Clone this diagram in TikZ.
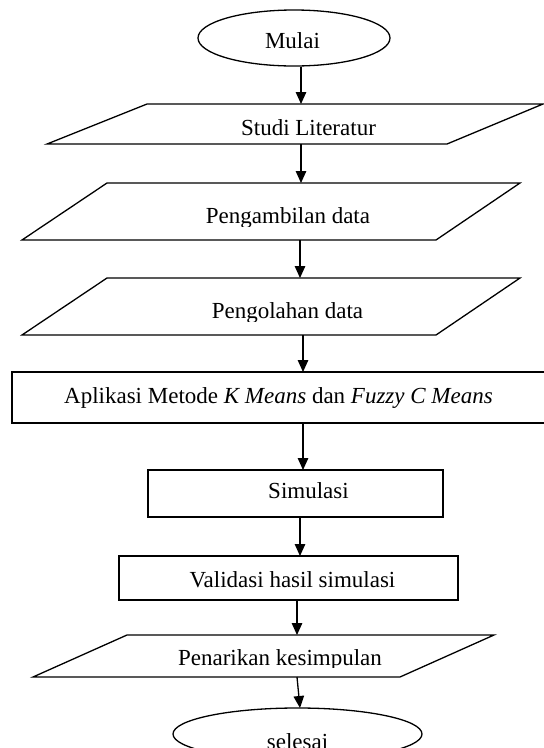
\documentclass[tikz,border=0pt]{standalone}
\usepackage{fontspec}
\setmainfont{Liberation Serif}
\usetikzlibrary{shapes.geometric,arrows.meta}
\begin{document}
\begin{tikzpicture}[x=1pt,y=-1pt,
  box/.style={draw, line width=1.3pt},
  lbl/.style={anchor=base, inner sep=0pt, font=\fontsize{23}{27}\selectfont},
  arr/.style={line width=1.3pt, -{Triangle[width=10.5pt,length=12pt]}}]
\clip (0,0) rectangle (544,748);
\fill[white] (0,0) rectangle (544,748);

% start
\node[box, ellipse, minimum width=192pt, minimum height=56pt, inner sep=0pt] (mulai) at (294,38) {};
\node[lbl] (tmulai) at (292.5,48) {Mulai};

% Studi Literatur
\draw[box] (147,104) -- (543,104) -- (447,144) -- (47,144) -- cycle;
\node[lbl] (tstudi) at (308.5,135) {Studi Literatur};

% Pengambilan data
\draw[box] (107,183) -- (520,183) -- (436,240) -- (22,240) -- cycle;
\begin{scope}
\clip (0,150) rectangle (544,226);
\node[lbl] (tambil) at (288,223) {Pengambilan data};
\end{scope}

% Pengolahan data
\draw[box] (107,278) -- (520,278) -- (436,335) -- (22,335) -- cycle;
\begin{scope}
\clip (0,250) rectangle (544,321.5);
\node[lbl] (tolah) at (287.5,318) {Pengolahan data};
\end{scope}

% Aplikasi
\draw[box] (12,372) rectangle (548,423);
\node[lbl] (tapl) at (278.5,403) {Aplikasi Metode \textit{K Means} dan \textit{Fuzzy C Means}};

% Simulasi
\draw[box] (148,470) rectangle (443,517);
\node[lbl] (tsim) at (308.5,498) {Simulasi};

% Validasi
\draw[box] (119,556) rectangle (458,600);
\node[lbl] (tval) at (292.5,587) {Validasi hasil simulasi};

% Penarikan kesimpulan
\draw[box] (127,635) -- (494,635) -- (400,677) -- (33,677) -- cycle;
\begin{scope}
\clip (0,610) rectangle (544,667.5);
\node[lbl] (tpen) at (280,665) {Penarikan kesimpulan};
\end{scope}

% end
\node[box, ellipse, minimum width=249pt, minimum height=52pt, inner sep=0pt] (selesai) at (297.5,734) {};
\node[lbl] (tsel) at (297.5,749) {selesai};

% connector end points
\coordinate (a1s) at (301,67);  \coordinate (a1e) at (301,104);
\coordinate (a2s) at (301,144); \coordinate (a2e) at (301,183);
\coordinate (a3s) at (300,240); \coordinate (a3e) at (300,278);
\coordinate (a4s) at (303,335); \coordinate (a4e) at (303,372);
\coordinate (a5s) at (303,423); \coordinate (a5e) at (303,470);
\coordinate (a6s) at (300,517); \coordinate (a6e) at (300,556);
\coordinate (a7s) at (297,600); \coordinate (a7e) at (297,635);
\coordinate (a8s) at (297,677); \coordinate (a8e) at (300,708);

\draw[arr] (a1s) -- (a1e);
\draw[arr] (a2s) -- (a2e);
\draw[arr] (a3s) -- (a3e);
\draw[arr] (a4s) -- (a4e);
\draw[arr] (a5s) -- (a5e);
\draw[arr] (a6s) -- (a6e);
\draw[arr] (a7s) -- (a7e);
\draw[arr] (a8s) -- (a8e);
\end{tikzpicture}
\end{document}
